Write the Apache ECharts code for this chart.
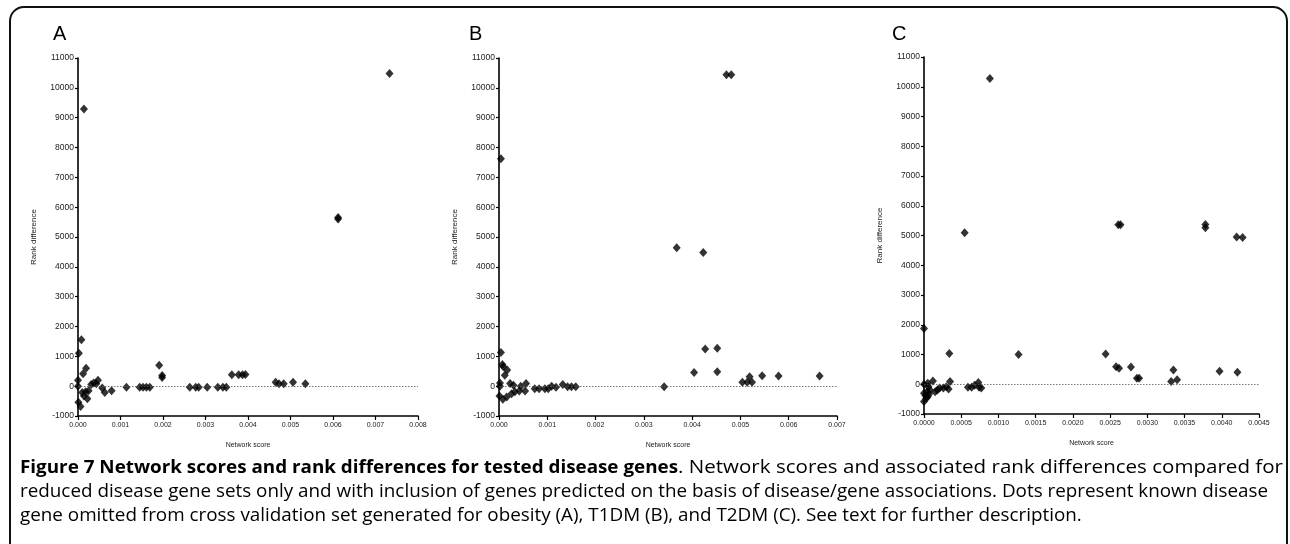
<!DOCTYPE html>
<html>
<head>
<meta charset="utf-8">
<script src="https://cdn.jsdelivr.net/npm/echarts@6/dist/echarts.min.js"></script>
<style>
html,body{margin:0;padding:0;background:#fff;}
#chart{width:1290px;height:544px;}
</style>
</head>
<body>
<div id="chart"></div>
<script>
// ---- Data (Network score, Rank difference) ----
const panelLabels = ['A', 'B', 'C'];
const yTicks = [-1000, 0, 1000, 2000, 3000, 4000, 5000, 6000, 7000, 8000, 9000, 10000, 11000];
const xTicksA = ['0.000','0.001','0.002','0.003','0.004','0.005','0.006','0.007','0.008'];
const xTicksB = ['0.000','0.001','0.002','0.003','0.004','0.005','0.006','0.007'];
const xTicksC = ['0.0000','0.0005','0.0010','0.0015','0.0020','0.0025','0.0030','0.0035','0.0040','0.0045'];

const obesityA = [
  [0.00733, 10480], [0.00014, 9290], [0.00612, 5650], [0.00612, 5600],
  [0.00008, 1560], [0.00002, 1100], [0.00000, 200], [0.00019, 600], [0.00012, 420],
  [0.00000, 0], [0.00001, -540], [0.00006, -680], [0.00010, -210], [0.00014, -330],
  [0.00018, -190], [0.00025, -150], [0.00031, 60], [0.00037, 110], [0.00047, 200],
  [0.00043, 80], [0.00057, -60], [0.00063, -210], [0.00079, -150], [0.00022, -420],
  [0.00114, -40], [0.00145, -40], [0.00153, -40], [0.00161, -40], [0.00169, -40],
  [0.00191, 700], [0.00198, 360], [0.00198, 290],
  [0.00263, -40], [0.00277, -40], [0.00284, -40], [0.00304, -40], [0.00329, -40], [0.00341, -40], [0.00349, -40],
  [0.00362, 380], [0.00378, 380], [0.00387, 380], [0.00394, 390],
  [0.00465, 130], [0.00473, 80], [0.00484, 80], [0.00506, 130], [0.00535, 80]
];

const t1dmB = [
  [0.00471, 10440], [0.00481, 10440], [0.00004, 7620],
  [0.00368, 4640], [0.00423, 4480], [0.00427, 1250], [0.00452, 1270],
  [0.00404, 460], [0.00452, 480], [0.00342, -20],
  [0.00504, 135], [0.00514, 135], [0.00519, 315], [0.00524, 135],
  [0.00545, 350], [0.00579, 340], [0.00664, 340],
  [0.00004, 1130], [0.00007, 730], [0.00009, 650], [0.00017, 540], [0.00012, 370],
  [0.00002, 110], [0.00002, 0], [0.00001, -330], [0.00008, -440], [0.00016, -360],
  [0.00023, 90], [0.00030, 30], [0.00026, -250], [0.00033, -190], [0.00042, -160],
  [0.00045, 0], [0.00054, -160], [0.00056, 90], [0.00074, -90], [0.00083, -90],
  [0.00095, -90], [0.00102, -90], [0.00109, 0], [0.00118, -40], [0.00132, 60],
  [0.00142, -20], [0.00150, -20], [0.00159, -20]
];

const t2dmC = [
  [0.000885, 10280], [0.000546, 5090],
  [0.00261, 5360], [0.00264, 5360], [0.00378, 5370], [0.00378, 5260],
  [0.00420, 4950], [0.00428, 4930],
  [0.00000, 1870], [0.00034, 1030], [0.00127, 1000], [0.00244, 1020],
  [0.00258, 590], [0.00262, 540], [0.00278, 580], [0.00286, 200], [0.00289, 200],
  [0.00332, 90], [0.00335, 480], [0.00340, 150], [0.00397, 440], [0.00421, 400],
  [0.00000, 0], [0.00000, -300], [0.00000, -580], [0.00003, -470], [0.00004, -250],
  [0.00005, -420], [0.00006, -80], [0.00005, 30], [0.00008, -190], [0.00012, 110],
  [0.00015, -250], [0.00018, -190], [0.00021, -130], [0.00026, -130], [0.00030, -80],
  [0.00033, -160], [0.00035, 90], [0.00059, -100], [0.00064, -100], [0.00068, -30],
  [0.00073, 60], [0.00074, -100], [0.00077, -130], [0.00002, -380], [0.00007, -330]
];

const captionBold = 'Figure 7 Network scores and rank differences for tested disease genes';
const captionLines = [
  '. Network scores and associated rank differences compared for',
  'reduced disease gene sets only and with inclusion of genes predicted on the basis of disease/gene associations. Dots represent known disease',
  'gene omitted from cross validation set generated for obesity (A), T1DM (B), and T2DM (C). See text for further description.'
];

// ---- Layout ----
const grids = [
  {left: 78, top: 58, width: 340, height: 358},
  {left: 499, top: 58, width: 338, height: 358},
  {left: 924, top: 57, width: 335, height: 357}
];
const xConf = [
  {max: 0.008, interval: 0.001, ticks: xTicksA},
  {max: 0.007, interval: 0.001, ticks: xTicksB},
  {max: 0.0045, interval: 0.0005, ticks: xTicksC}
];
const datasets = [obesityA, t1dmB, t2dmC];
const labelPos = [[53, 34], [469, 34], [892, 34]];

const axisFont = '"Liberation Sans", Arial, sans-serif';
const capFont = '"Open Sans", sans-serif';

const ctx = document.createElement('canvas').getContext('2d');
function tw(text, font) { ctx.font = font; return ctx.measureText(text).width; }
const capSize = 18;
const capNormal = capSize + 'px ' + capFont;
const capBoldF = 'bold ' + capSize + 'px ' + capFont;
const capScale = 1248 / tw(captionLines[1], capNormal);
const boldScale = 658 / tw(captionBold, capBoldF);
const l1Scale = 605 / tw(captionLines[0], capNormal);
const capY = [468, 492, 516];

const option = {
  animation: false,
  backgroundColor: '#fff',
  grid: grids.map(g => Object.assign({containLabel: false}, g)),
  xAxis: xConf.map((c, i) => ({
    type: 'value', gridIndex: i, min: 0, max: c.max, interval: c.interval,
    name: 'Network score', nameLocation: 'middle', nameGap: 26,
    nameTextStyle: {fontFamily: axisFont, fontSize: 7, color: '#222'},
    axisLine: {show: true, onZero: false, lineStyle: {color: '#000', width: 1.6}},
    axisTick: {show: true, length: 4, lineStyle: {color: '#000', width: 1.2}},
    axisLabel: {fontFamily: axisFont, fontSize: 7, color: '#222', margin: 6,
      formatter: (v) => { const k = Math.round(v / c.interval); return c.ticks[k] !== undefined ? c.ticks[k] : ''; }},
    splitLine: {show: false}
  })),
  yAxis: grids.map((g, i) => ({
    type: 'value', gridIndex: i, min: yTicks[0], max: yTicks[yTicks.length - 1], interval: 1000,
    name: 'Rank difference', nameLocation: 'middle', nameGap: 40, nameRotate: 90,
    nameTextStyle: {fontFamily: axisFont, fontSize: 8, color: '#222'},
    axisLine: {show: true, onZero: false, lineStyle: {color: '#000', width: 1.6}},
    axisTick: {show: true, length: 3, lineStyle: {color: '#000', width: 1.2}},
    axisLabel: {fontFamily: axisFont, fontSize: 8.5, color: '#222', margin: 4,
      formatter: (v) => String(v)},
    splitLine: {show: false}
  })),
  series: datasets.map((d, i) => ({
    type: 'scatter', xAxisIndex: i, yAxisIndex: i, data: d,
    symbol: 'diamond', symbolSize: [8, 9],
    itemStyle: {color: '#000'},
    markLine: {
      silent: true, symbol: 'none', label: {show: false},
      lineStyle: {color: '#555', type: [1.5, 1.5], width: 0.8},
      data: [{yAxis: 0}]
    }
  })),
  graphic: [
    {type: 'rect', z: -1, shape: {x: 10, y: 7, width: 1277, height: 600, r: 14},
      style: {fill: 'none', stroke: '#111', lineWidth: 2}},
    ...panelLabels.map((t, i) => ({
      type: 'text', x: labelPos[i][0], y: labelPos[i][1],
      style: {text: t, font: '20px ' + axisFont, fill: '#000', verticalAlign: 'middle'}
    })),
    {type: 'text', x: 20, y: capY[0], scaleX: boldScale,
      style: {text: captionBold, font: capBoldF, fill: '#000', verticalAlign: 'middle'}},
    {type: 'text', x: 678, y: capY[0], scaleX: l1Scale,
      style: {text: captionLines[0], font: capNormal, fill: '#000', verticalAlign: 'middle'}},
    {type: 'text', x: 20, y: capY[1], scaleX: capScale,
      style: {text: captionLines[1], font: capNormal, fill: '#000', verticalAlign: 'middle'}},
    {type: 'text', x: 20, y: capY[2], scaleX: capScale,
      style: {text: captionLines[2], font: capNormal, fill: '#000', verticalAlign: 'middle'}}
  ]
};

const chart = echarts.init(document.getElementById('chart'), null, {renderer: 'canvas'});
chart.setOption(option);
</script>
</body>
</html>
